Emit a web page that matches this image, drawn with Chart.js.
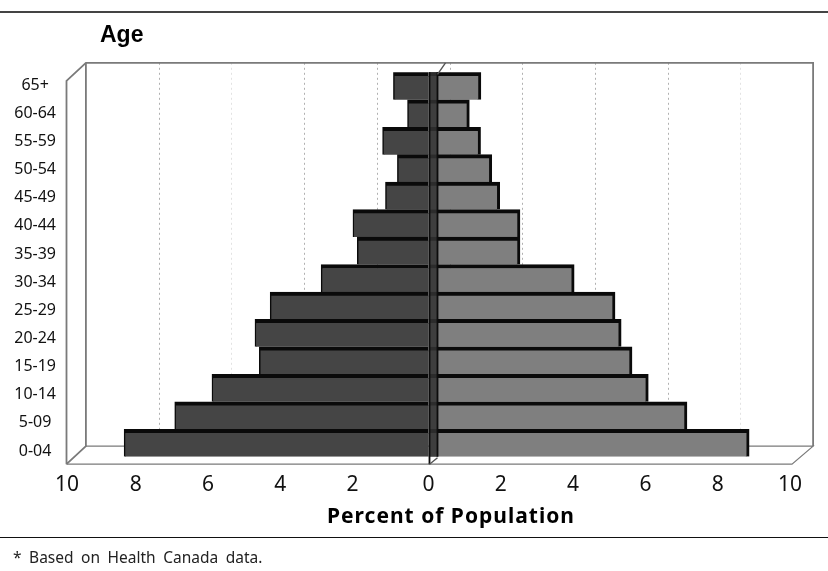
<!DOCTYPE html>
<html><head><meta charset="utf-8">
<style>
html,body{margin:0;padding:0;background:#fff;width:828px;height:571px;overflow:hidden}
#wrap{position:relative;width:828px;height:571px}
canvas{position:absolute;left:0;top:0}
.rule{position:absolute;left:0;width:828px}
.t{position:absolute;white-space:pre;color:#000}
</style>
<script src="https://cdn.jsdelivr.net/npm/chart.js@4"></script>
</head><body>
<div id="wrap">
<canvas id="c" width="828" height="571"></canvas>
<div class="rule" style="top:11px;height:2px;background:#444"></div>
<div class="rule" style="top:537px;height:1px;background:#111"></div>
<div class="t" style="left:100px;top:21px;font:bold 23px 'Liberation Sans',sans-serif">Age</div>
<div class="t" style="left:327px;top:501px;font:bold 21px 'Noto Sans',sans-serif;letter-spacing:1px">Percent of Population</div>
<div class="t" style="left:13px;top:546px;font:15.5px 'Noto Sans',sans-serif;word-spacing:3.5px;color:#222">* Based on Health Canada data.</div>
</div>
<script>
const ageGroups = ["65+","60-64","55-59","50-54","45-49","40-44","35-39","30-34","25-29","20-24","15-19","10-14","5-09","0-04"];
const leftPercent = [-0.97,-0.58,-1.27,-0.86,-1.19,-2.09,-1.97,-2.97,-4.38,-4.8,-4.68,-5.99,-7.02,-8.42];
const rightPercent = [1.45,1.13,1.44,1.75,1.97,2.53,2.53,4.03,5.16,5.33,5.63,6.08,7.15,8.87];
const xTicks = [-10,-8,-6,-4,-2,0,2,4,6,8,10];

const frame3d = {
  id:'frame3d',
  beforeDatasetsDraw(chart){
    const {ctx,chartArea:a,scales:{x}} = chart;
    const topB = a.top-9.5, botB = a.bottom-10.5, botF = a.bottom+7.5, topF = topB+18;
    const back = v => x.getPixelForValue(v)+21+v*0.21;
    const xl = x.getPixelForValue(-10)-0.5, xr = x.getPixelForValue(10)+2;
    ctx.save();
    ctx.lineWidth=1; ctx.setLineDash([2,3]);
    xTicks.forEach(v=>{ if(Math.abs(v)===10) return;
      const p=Math.round(back(v))+.5;
      ctx.strokeStyle = (v===-6||v===8)?'#e2e2e2':'#b0b0b0';
      ctx.beginPath();ctx.moveTo(p,topB);ctx.lineTo(p,botB);ctx.stroke();});
    ctx.setLineDash([]);
    ctx.strokeStyle='#7a7a7a'; ctx.lineWidth=1.8;
    const bl=back(-10), br=back(10);
    ctx.beginPath();
    ctx.moveTo(xl,botF);ctx.lineTo(xl,topF);ctx.lineTo(bl,topB);ctx.lineTo(br,topB);ctx.lineTo(br,botB);
    ctx.moveTo(bl,topB);ctx.lineTo(bl,botB);ctx.lineTo(xl,botF);
    ctx.stroke();
    ctx.lineWidth=1.2;
    ctx.beginPath();
    ctx.moveTo(xl,botF);ctx.lineTo(xr,botF);ctx.lineTo(br,botB);ctx.lineTo(bl,botB);
    ctx.stroke();
    ctx.restore();
  },
  afterDatasetsDraw(chart){
    const {ctx,chartArea:a,scales:{x}} = chart;
    const z = x.getPixelForValue(0);
    const topB = a.top-9.5, botF = a.bottom+7.5;
    ctx.save();
    ctx.fillStyle='rgba(50,50,50,.85)';
    ctx.fillRect(z+1,a.top,8,a.bottom-a.top);
    ctx.strokeStyle='#0c0c0c'; ctx.lineWidth=1.8;
    ctx.beginPath();
    ctx.moveTo(z+1,a.top);ctx.lineTo(z+1,botF);
    ctx.moveTo(z+9,a.top);ctx.lineTo(z+9,a.bottom);
    ctx.stroke();
    ctx.strokeStyle='#555'; ctx.lineWidth=1.4;
    ctx.beginPath();
    ctx.moveTo(z+9,a.top+2);ctx.lineTo(z+17,topB);
    ctx.moveTo(z+1,botF);ctx.lineTo(z+9,a.bottom+1);
    ctx.stroke();
    ctx.restore();
  }
};

new Chart(document.getElementById('c'),{
  type:'bar',
  data:{labels:ageGroups,datasets:[
    {label:'Left',data:leftPercent,backgroundColor:'#454545',borderColor:'#0a0a0a',
     borderWidth:{top:4,left:1.5,bottom:0,right:0},borderSkipped:false,xAxisID:'x',yAxisID:'y',stack:'a'},
    {label:'Right',data:rightPercent,backgroundColor:'#7f7f7f',borderColor:'#0a0a0a',
     borderWidth:{top:4,right:3,bottom:0,left:0},borderSkipped:false,xAxisID:'x',yAxisID:'y',stack:'a'}
  ]},
  options:{
    indexAxis:'y',responsive:false,animation:false,
    layout:{padding:{left:0,right:38,top:72.3,bottom:54.3}},
    datasets:{bar:{categoryPercentage:1,barPercentage:1}},
    plugins:{legend:{display:false},tooltip:{enabled:false}},
    scales:{
      x:{type:'linear',min:-10,max:10,stacked:true,
        afterBuildTicks(s){s.ticks=xTicks.map(v=>({value:(v<0&&v>-10)?v-0.1:v}));},
        afterFit(s){s.height=60;},
        grid:{display:false},border:{display:false},
        ticks:{autoSkip:false,maxRotation:0,padding:8,color:'#111',font:{family:"'Noto Sans',sans-serif",size:21},callback:v=>String(Math.round(Math.abs(v)))}
      },
      y:{type:'category',stacked:true,display:false,position:'left'},
      yLabels:{type:'linear',position:'left',offset:false,min:-0.2,max:13.45,
        afterBuildTicks(s){s.ticks=ageGroups.map((_,i)=>({value:i}));},
        afterFit(s){s.width=67;},
        grid:{display:false,offset:false},border:{display:false},
        ticks:{autoSkip:false,padding:3,crossAlign:'center',color:'#111',font:{family:"'Noto Sans',sans-serif",size:16},
          callback:v=>ageGroups[13-v]}
      }
    }
  },
  plugins:[frame3d]
});
</script>
</body></html>
